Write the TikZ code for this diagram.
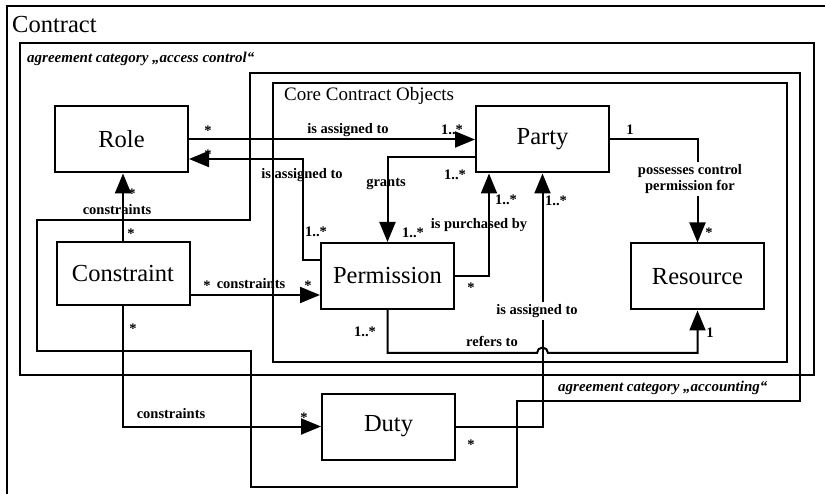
\documentclass[tikz,border=0pt]{standalone}
\usepackage{fontspec}
\setmainfont{Liberation Serif}
\usetikzlibrary{arrows.meta}

\begin{document}
\begin{tikzpicture}[x=1pt, y=-1pt]
    \pgfdeclarelayer{edgelayer}
    \pgfdeclarelayer{nodelayer}
    \pgfsetlayers{edgelayer,nodelayer,main}
    \tikzstyle{cls}=[draw, line width=2pt, minimum width=133pt, minimum height=66pt, inner sep=0pt, font=\fontsize{24.5}{26}\selectfont]
    \tikzstyle{tag}=[inner sep=1pt, font=\bfseries\fontsize{14.5}{16}\selectfont]
    \tikzstyle{gaptag}=[tag, fill=white, align=center, inner sep=2pt]
    \tikzstyle{category}=[inner sep=0pt, anchor=west, font=\bfseries\itshape\fontsize{15}{17}\selectfont]
    \tikzstyle{frame}=[line width=2pt]
    \tikzstyle{navigable}=[line width=2pt, -{Triangle[length=20pt, width=16pt]}]

    \useasboundingbox (0, 0) rectangle (825, 494);
	\begin{pgfonlayer}{nodelayer}
		\node [style=cls] (role) at (121.5, 139.5) {Role};
		\node [style=cls] (party) at (542.5, 139.5) {Party};
		\node [style=cls] (permission) at (387.5, 276) {Permission};
		\node [style=cls] (resource) at (697.5, 276.5) {Resource};
		\node [style=cls, minimum height=63pt] (constraint) at (123, 273.5) {Constraint};
		\node [style=cls] (duty) at (388.5, 426.5) {Duty};
	\end{pgfonlayer}
	\begin{pgfonlayer}{edgelayer}
        % frames
        \draw [style=frame] (7, 500) |- (830, 6);
        \draw [style=frame] (20, 43) rectangle (814, 375);
        \draw [style=frame] (273, 83) rectangle (787, 362);
        \draw [style=frame] (37, 220) -| (250, 73) -| (800, 401) -| (517, 487) -| (251, 351) -| (37, 220) -- cycle;

		\draw [style=navigable] (role) to (party);
		\draw [style=navigable] ([yshift=16pt]permission.west) -- ++(-17, 0) |- ([yshift=-19.5pt]role.east);
		\draw [style=navigable] ([yshift=-17.5pt]party.west) -| (permission.north);
		\draw [style=navigable] (constraint.north) -- (constraint.north |- role.south);
		\coordinate (c1) at ([yshift=-21.5pt]constraint.east);
		\draw [style=navigable] (c1) -- (c1 -| permission.west);
		\draw [style=navigable] (permission.east) -| ([xshift=-53.5pt]party.south);
		\draw [style=navigable] (duty.east) -| (party.south);
		\coordinate (bend) at ([yshift=-43pt]permission.south);
		\coordinate (hop) at (bend -| party.south);
		\draw [style=navigable] (permission.south) |- ([xshift=-5.5pt]hop) arc [start angle=180, end angle=360, radius=5.5] -| (resource.south);
		\draw [style=navigable] (party.east) -| (resource.north);
		\draw [style=navigable] (constraint.south) |- (duty.west);
	\end{pgfonlayer}

    \node [anchor=west, inner sep=0pt, font=\fontsize{24.5}{26}\selectfont] (contract) at (12, 25) {Contract};
    \node [style=category] (access) at (27, 59) {agreement category „access control“};
    \node [style=category] (accounting) at (558, 388) {agreement category „accounting“};
    \node [anchor=west, inner sep=0pt, font=\fontsize{19}{21}\selectfont] (core) at (284, 96) {Core Contract Objects};

    \node [style=tag] (t1) at (208, 131) {*};
    \node [style=tag] (t2) at (348, 130) {is assigned to};
    \node [style=tag] (t3) at (452, 130) {1..*};
    \node [style=tag] (t4) at (208, 155) {*};
    \node [style=tag] (t5) at (302, 175) {is assigned to};
    \node [style=tag] (t6) at (316, 232) {1..*};
    \node [style=tag] (t7) at (386, 184) {grants};
    \node [style=tag] (t8) at (455, 175) {1..*};
    \node [style=tag] (t9) at (413, 233) {1..*};
    \node [style=tag] (t10) at (479, 225) {is purchased by};
    \node [style=tag] (t11) at (506, 200) {1..*};
    \node [style=tag] (t12) at (556, 201) {1..*};
    \node [style=tag] (t13) at (471, 288) {*};
    \node [style=tag] (t14) at (630, 130) {1};
    \node [style=gaptag] (t15) at (690, 179) {possesses control\\permission for};
    \node [style=tag] (t16) at (709, 233) {*};
    \node [style=tag] (t17) at (117, 210) {constraints};
    \node [style=tag] (t18) at (131, 234) {*};
    \node [style=tag] (t19) at (132, 194) {*};
    \node [style=tag] (t20) at (207, 286) {*};
    \node [style=tag] (t21) at (251, 284) {constraints};
    \node [style=tag] (t22) at (308, 286) {*};
    \node [style=tag] (t23) at (133, 329) {*};
    \node [style=tag] (t24) at (171, 414) {constraints};
    \node [style=tag] (t25) at (304, 418) {*};
    \node [style=tag] (t26) at (471, 445) {*};
    \node [style=tag] (t27) at (365, 332) {1..*};
    \node [style=tag] (t28) at (492, 341) {refers to};
    \node [style=tag] (t29) at (710, 333) {1};
    \node [style=gaptag] (t30) at (537, 311) {is assigned to};
\end{tikzpicture}
\end{document}
